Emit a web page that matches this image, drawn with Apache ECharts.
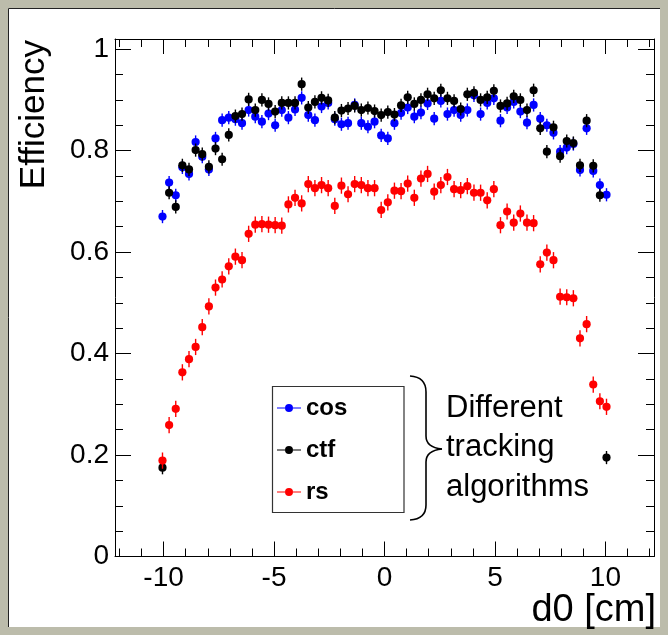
<!DOCTYPE html>
<html><head><meta charset="utf-8">
<script src="https://cdn.jsdelivr.net/npm/echarts@6/dist/echarts.min.js"></script>
<style>html,body{margin:0;padding:0;background:#fff}#c{width:668px;height:635px}</style>
</head><body><div id="c"></div>
<script>
// ---- data (bin centers of d0 in cm, efficiencies per tracking algorithm) ----
const d0Bins = [-10.05,-9.75,-9.45,-9.15,-8.85,-8.55,-8.25,-7.95,-7.65,-7.35,-7.05,-6.75,-6.45,-6.15,-5.85,-5.55,-5.25,-4.95,-4.65,-4.35,-4.05,-3.75,-3.45,-3.15,-2.85,-2.55,-2.25,-1.95,-1.65,-1.35,-1.05,-0.75,-0.45,-0.15,0.15,0.45,0.75,1.05,1.35,1.65,1.95,2.25,2.55,2.85,3.15,3.45,3.75,4.05,4.35,4.65,4.95,5.25,5.55,5.85,6.15,6.45,6.75,7.05,7.35,7.65,7.95,8.25,8.55,8.85,9.15,9.45,9.75,10.05];
const effCos = [0.670,0.737,0.712,0.767,0.754,0.817,0.788,0.763,0.824,0.860,0.865,0.862,0.854,0.880,0.867,0.857,0.873,0.850,0.880,0.865,0.881,0.904,0.870,0.860,0.887,0.894,0.862,0.852,0.854,0.890,0.854,0.847,0.857,0.830,0.824,0.854,0.874,0.885,0.867,0.875,0.893,0.863,0.898,0.872,0.880,0.870,0.880,0.909,0.872,0.894,0.903,0.859,0.885,0.896,0.877,0.855,0.890,0.863,0.850,0.835,0.798,0.806,0.813,0.762,0.844,0.760,0.732,0.713];
const effCtf = [0.175,0.717,0.689,0.771,0.763,0.801,0.793,0.768,0.804,0.783,0.831,0.868,0.872,0.901,0.880,0.900,0.892,0.877,0.894,0.894,0.894,0.931,0.885,0.896,0.904,0.899,0.865,0.879,0.883,0.888,0.880,0.884,0.878,0.870,0.876,0.871,0.889,0.905,0.892,0.900,0.911,0.903,0.919,0.903,0.898,0.882,0.911,0.914,0.900,0.905,0.918,0.888,0.893,0.907,0.900,0.880,0.919,0.844,0.798,0.846,0.789,0.819,0.815,0.771,0.859,0.770,0.712,0.195];
const effRs = [0.189,0.259,0.291,0.363,0.389,0.413,0.452,0.493,0.530,0.546,0.572,0.591,0.584,0.636,0.654,0.655,0.654,0.653,0.652,0.694,0.707,0.696,0.734,0.726,0.732,0.726,0.691,0.731,0.714,0.734,0.732,0.726,0.726,0.683,0.698,0.721,0.720,0.735,0.707,0.745,0.754,0.719,0.732,0.748,0.724,0.722,0.730,0.717,0.717,0.702,0.724,0.653,0.680,0.658,0.676,0.658,0.657,0.576,0.599,0.584,0.512,0.511,0.509,0.430,0.458,0.339,0.306,0.295];
const errCos = 0.013, errCtf = 0.013, errRs = 0.016;
const seriesNames = ['cos','ctf','rs'];
const xTickLabels = [-10,-5,0,5,10];
const yTickLabels = [0,0.2,0.4,0.6,0.8,1];
const annotationLines = ['Different','tracking','algorithms'];
const xTitle = 'd0 [cm]', yTitle = 'Efficiency';

// ---- layout / style ----
const FONT = "'Liberation Sans', Arial, Helvetica, sans-serif";
const XMIN = -12.2, XMAX = 12.2, YMIN = 0, YMAX = 1.02;
const xMinor = []; for (let v = -12; v <= 12; v++) if (v % 5 !== 0) xMinor.push(v);
const yMinor = []; for (let i = 1; i <= 20; i++) if (i % 4 !== 0) yMinor.push(+(i * 0.05).toFixed(2));

function xAx(pos, vals, len, labels, line) {
  return {type:'value', position:pos, min:XMIN, max:XMAX,
    axisLine:{show:line, onZero:false, lineStyle:{color:'#000', width:1}},
    axisTick:{show:true, inside:true, length:len, customValues:vals, lineStyle:{color:'#000', width:1}},
    axisLabel:{show:labels, customValues:vals, color:'#000', fontSize:28, fontFamily:FONT, margin:8},
    splitLine:{show:false}};
}
function yAx(pos, vals, len, labels, line) {
  return {type:'value', position:pos, min:YMIN, max:YMAX,
    axisLine:{show:line, onZero:false, lineStyle:{color:'#000', width:1}},
    axisTick:{show:true, inside:true, length:len, customValues:vals, lineStyle:{color:'#000', width:1}},
    axisLabel:{show:labels, customValues:vals, color:'#000', fontSize:28, fontFamily:FONT, margin:6},
    splitLine:{show:false}};
}
function errSeries(name, ys, err, color) {
  return {
    type:'custom', name, xAxisIndex:0, yAxisIndex:0,
    itemStyle:{color},
    data: d0Bins.map((x,i)=>[x, ys[i], err]),
    renderItem:(params, api)=>{
      const x = api.value(0), y = api.value(1), e = api.value(2);
      const p = api.coord([x,y]), lo = api.coord([x,y-e]), hi = api.coord([x,y+e]);
      return {type:'group', children:[
        {type:'line', shape:{x1:p[0], y1:lo[1], x2:p[0], y2:hi[1]}, style:{stroke:color, lineWidth:1.4}},
        {type:'circle', shape:{cx:p[0], cy:p[1], r:4.1}, style:{fill:color}}
      ]};
    }
  };
}
const legendIcon = 'path://M0 3.5 L8 3.5 L8 4.5 L0 4.5 Z M8 4 A4 4 0 1 1 16 4 A4 4 0 1 1 8 4 Z M16 3.5 L24 3.5 L24 4.5 L16 4.5 Z';
const braceStyle = {stroke:'#000', lineWidth:1.6, fill:null};

const chart = echarts.init(document.getElementById('c'), null, {renderer:'canvas'});
chart.setOption({
  animation:false,
  backgroundColor:'#bcbcab',
  grid:{left:115, right:14, top:39, bottom:78.5},
  xAxis:[xAx('bottom', xTickLabels, 15, true, true), xAx('bottom', xMinor, 8, false, false),
         xAx('top', xTickLabels, 15, false, true), xAx('top', xMinor, 8, false, false)],
  yAxis:[yAx('left', yTickLabels, 16, true, true), yAx('left', yMinor, 8, false, false),
         yAx('right', yTickLabels, 16, false, true), yAx('right', yMinor, 8, false, false)],
  legend:{show:true, orient:'vertical', left:277, top:396, padding:0, itemGap:18,
    itemWidth:24, itemHeight:8, icon:legendIcon, selectedMode:false, data:seriesNames,
    textStyle:{fontSize:24, fontWeight:'bold', color:'#000', fontFamily:FONT}},
  graphic:[
    {type:'rect', z:-100, shape:{x:8, y:8, width:652, height:619}, style:{fill:'#ffffff'}},
    {type:'polyline', z:-99, shape:{points:[[8.5,627],[8.5,8.5],[660,8.5]]}, style:{stroke:'#222', lineWidth:1, fill:null}},
    {type:'rect', z:10, shape:{x:272.5, y:386.5, width:131.5, height:126}, style:{fill:'rgba(0,0,0,0)', stroke:'#333', lineWidth:1.2}},
    {type:'bezierCurve', z:10, shape:{x1:410, y1:376, cpx1:426, cpy1:377, x2:426, y2:392}, style:braceStyle},
    {type:'line', z:10, shape:{x1:426, y1:392, x2:426, y2:436}, style:braceStyle},
    {type:'bezierCurve', z:10, shape:{x1:426, y1:436, cpx1:426, cpy1:447.5, x2:442, y2:449}, style:braceStyle},
    {type:'bezierCurve', z:10, shape:{x1:442, y1:449, cpx1:426, cpy1:450.5, x2:426, y2:462}, style:braceStyle},
    {type:'line', z:10, shape:{x1:426, y1:462, x2:426, y2:505}, style:braceStyle},
    {type:'bezierCurve', z:10, shape:{x1:426, y1:505, cpx1:426, cpy1:519, x2:410, y2:520}, style:braceStyle},
    {type:'text', z:10, x:446, y:408, style:{text:annotationLines[0], fontSize:31, fontFamily:FONT, fill:'#000', align:'left', verticalAlign:'middle'}},
    {type:'text', z:10, x:446, y:447, style:{text:annotationLines[1], fontSize:31, fontFamily:FONT, fill:'#000', align:'left', verticalAlign:'middle'}},
    {type:'text', z:10, x:446, y:487, style:{text:annotationLines[2], fontSize:31, fontFamily:FONT, fill:'#000', align:'left', verticalAlign:'middle'}},
    {type:'text', z:10, x:34, y:40, rotation:Math.PI/2, style:{text:yTitle, fontSize:35, fontFamily:FONT, fill:'#000', align:'right', verticalAlign:'middle'}},
    {type:'text', z:10, x:656, y:611, style:{text:xTitle, fontSize:38, fontFamily:FONT, fill:'#000', align:'right', verticalAlign:'middle'}}
  ],
  series:[errSeries('cos', effCos, errCos, '#0000ff'), errSeries('ctf', effCtf, errCtf, '#000000'), errSeries('rs', effRs, errRs, '#ff0000')]
});
</script></body></html>
